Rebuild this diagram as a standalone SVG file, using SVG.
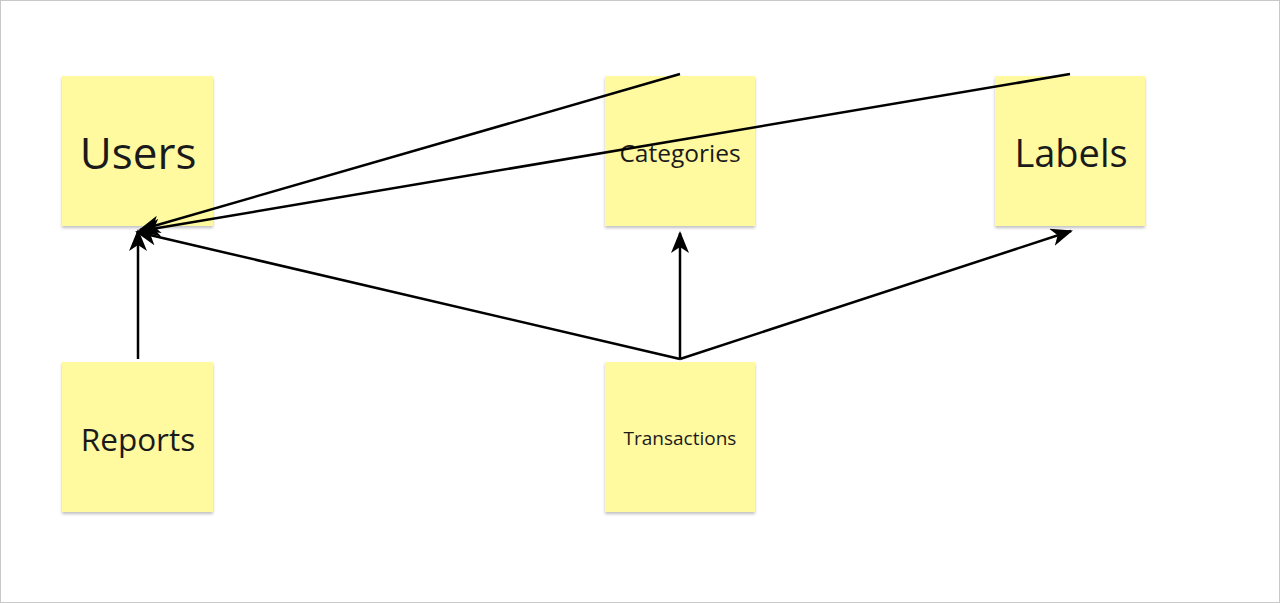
<svg xmlns="http://www.w3.org/2000/svg" width="1280" height="603" viewBox="0 0 1280 603">
<defs>
<filter id="sh" x="-10%" y="-10%" width="120%" height="120%">
<feDropShadow dx="0" dy="2" stdDeviation="1.5" flood-color="#000" flood-opacity="0.25"/>
</filter>
<marker id="ah" viewBox="0 0 22 18" refX="20" refY="9" markerWidth="22" markerHeight="18" markerUnits="userSpaceOnUse" orient="auto">
<path d="M0,0 L22,9 L0,18 L6,9 Z" fill="#000"/>
</marker>
</defs>
<style>
.note{fill:#fff9a0;filter:url(#sh)}
.t{font-family:"Open Sans","Noto Sans",sans-serif;fill:#1a1a1a;text-anchor:middle;dominant-baseline:central}
.c{fill:none;stroke:#000;stroke-width:2.5;marker-end:url(#ah)}
</style>
<rect x="0.5" y="0.5" width="1279" height="602" fill="#fff" stroke="#c8c8c8"/>
<g id="users"><rect class="note" x="62" y="76" width="151" height="150"/><text class="t" x="138" y="152" font-size="44">Users</text></g>
<g id="categories"><rect class="note" x="605" y="76" width="150" height="150"/><text class="t" x="680" y="152" font-size="24.5">Categories</text></g>
<g id="labels"><rect class="note" x="995" y="76" width="150" height="150"/><text class="t" x="1071" y="152" font-size="38">Labels</text></g>
<g id="reports"><rect class="note" x="62" y="362" width="151" height="150"/><text class="t" x="138" y="438" font-size="31.5">Reports</text></g>
<g id="transactions"><rect class="note" x="605" y="362" width="150" height="150"/><text class="t" x="680" y="438" font-size="19" fill="#333">Transactions</text></g>
<g id="connectors">
<line class="c" x1="680" y1="74" x2="140" y2="230"/>
<line class="c" x1="1070" y1="74" x2="140" y2="231"/>
<line class="c" x1="680" y1="359" x2="137" y2="232"/>
<line class="c" x1="138" y1="359" x2="138" y2="231"/>
<line class="c" x1="680" y1="359" x2="680" y2="233"/>
<line class="c" x1="680" y1="359" x2="1071" y2="231"/>
</g>
</svg>
